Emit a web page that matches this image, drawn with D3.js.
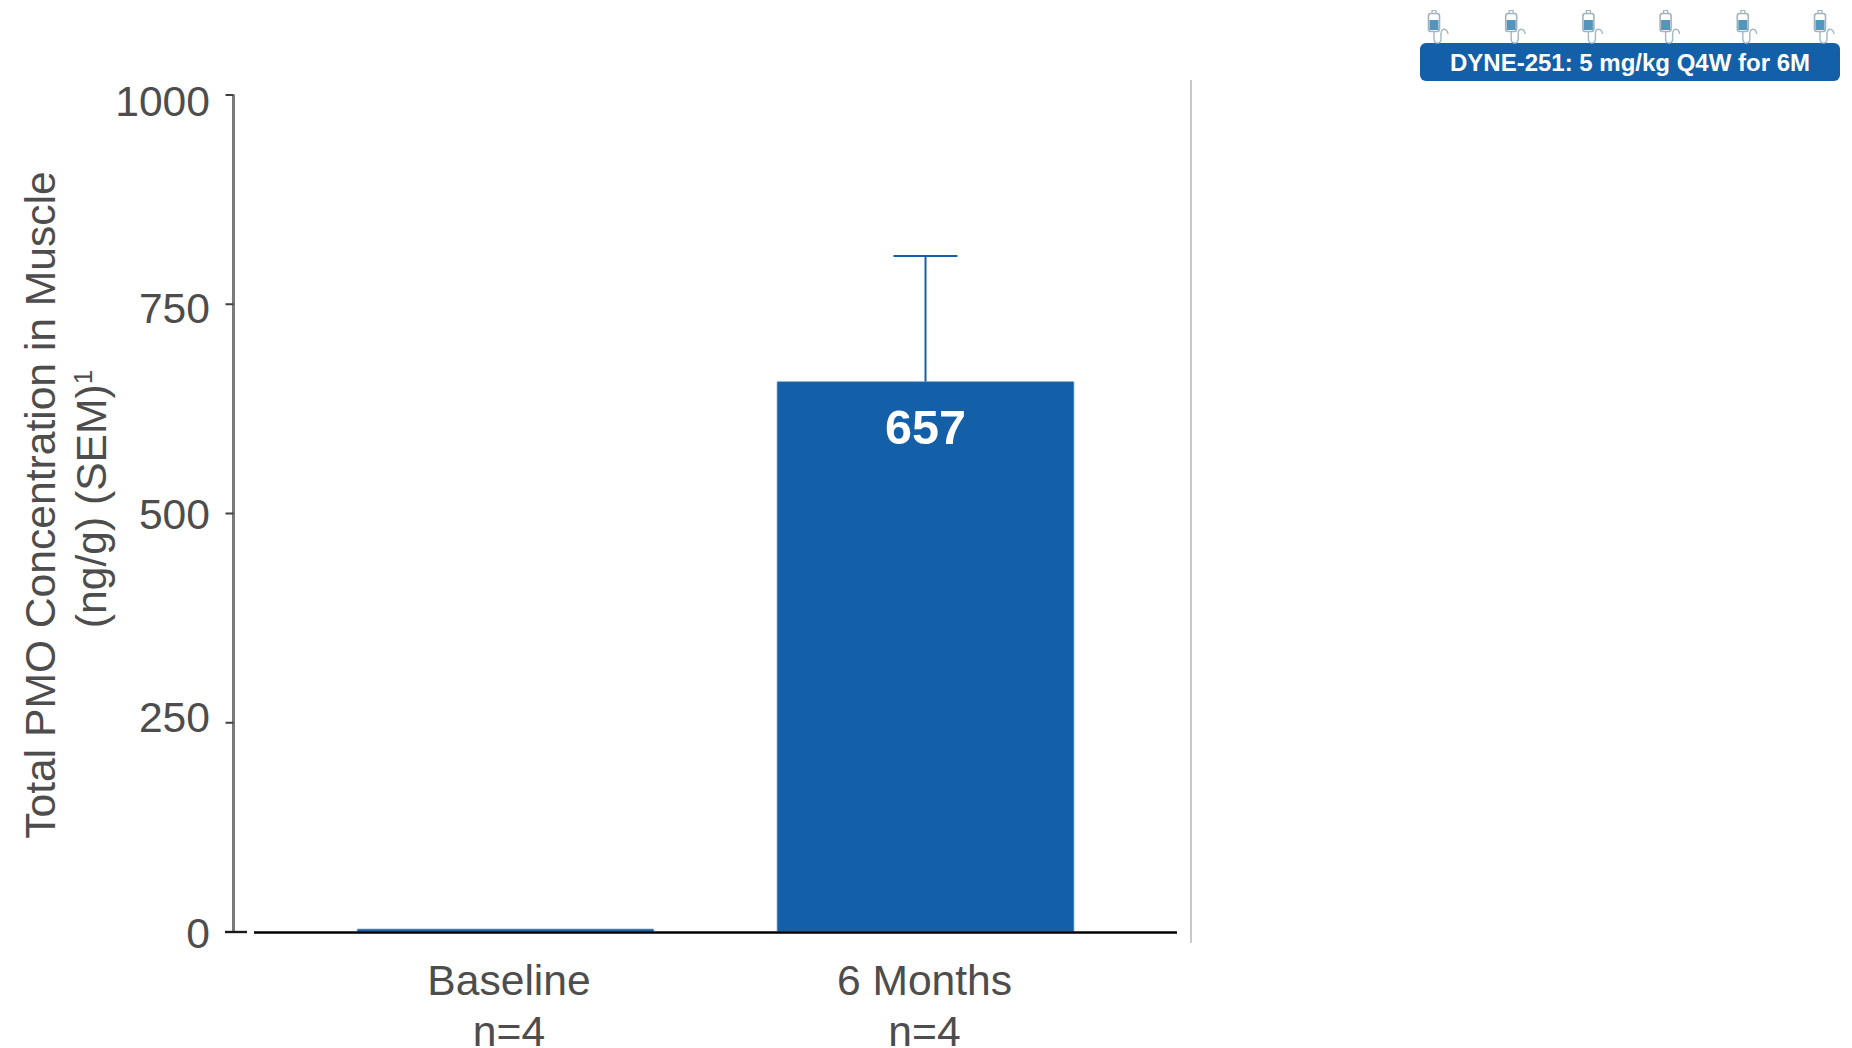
<!DOCTYPE html>
<html><head><meta charset="utf-8">
<script src="https://cdn.jsdelivr.net/npm/d3@7"></script>
<style>
html,body{margin:0;padding:0;background:#fff}
svg{display:block}
text{font-family:"Liberation Sans",Arial,sans-serif}
</style></head><body>
<svg id="c" width="1852" height="1048"></svg>
<script>
const categories = ["Baseline","6 Months"];
const sampleLabels = ["n=4","n=4"];
const values = [3,657];
const errors = [0,150];
const yTicks = [0,250,500,750,1000];
const valueLabels = [null,"657"];
const titleLines = ["Total PMO Concentration in Muscle","(ng/g) (SEM)"];
const badgeLabel = "DYNE-251: 5 mg/kg Q4W for 6M";
const doseMonths = [0,1,2,3,4,5];

const BLUE="#135fa8", TXT="#4d4d4d", FS=42.6;
const tickNudge=new Map([[0,0],[250,-6],[500,0],[750,3.5],[1000,5]]);
const svg=d3.select("#c");
const y=d3.scaleLinear().domain([0,1000]).range([931.5,94.5]);
const x=d3.scaleBand().domain(categories).range([357,1074]).paddingInner(0.2929).paddingOuter(0);

// y axis
const yAxis=d3.axisLeft(y).tickValues(yTicks).tickSize(8).tickPadding(0).tickFormat(d3.format("d"));
const gy=svg.append("g").attr("transform","translate(233.5,0)").call(yAxis);
gy.select(".domain").attr("stroke","#7a7a7a").attr("stroke-width",3).attr("d",`M0,${y(1000)}V${y(0)}`);
gy.selectAll(".tick line").attr("stroke","#404040").attr("stroke-width",2);
gy.selectAll(".tick").filter(d=>d===0).select("line").attr("x1",-8.5).attr("x2",13.5).attr("stroke","#1a1a1a").attr("stroke-width",2.4);
gy.selectAll(".tick text").attr("x",-23.5).attr("dy",null).attr("y",d=>15.5+tickNudge.get(d))
  .attr("font-size",FS).attr("fill",TXT).attr("font-family","Liberation Sans");

// bars
svg.append("g").selectAll("rect").data(categories).join("rect")
  .attr("x",d=>x(d)).attr("width",x.bandwidth())
  .attr("y",(d,i)=>y(values[i])).attr("height",(d,i)=>y(0)-y(values[i]))
  .attr("rx",1)
  .attr("fill",BLUE).attr("stroke","#8fb4d8").attr("stroke-width",0.8);

// error bars
const eg=svg.append("g").attr("stroke",BLUE).attr("stroke-width",2).attr("fill","none");
categories.forEach((c,i)=>{
  if(!errors[i])return;
  const cx=x(c)+x.bandwidth()/2;
  eg.append("line").attr("x1",cx).attr("x2",cx).attr("y1",y(values[i])).attr("y2",y(values[i]+errors[i]));
  eg.append("line").attr("x1",cx-32).attr("x2",cx+32).attr("y1",y(values[i]+errors[i])).attr("y2",y(values[i]+errors[i]));
});

// value label
svg.append("g").selectAll("text").data(categories).join("text")
  .filter((d,i)=>valueLabels[i])
  .attr("x",d=>x(d)+x.bandwidth()/2).attr("y",y(657)+62)
  .attr("text-anchor","middle").attr("font-size",48.5).attr("font-weight",700).attr("fill","#fff")
  .text("657");

// x baseline and separator
svg.append("line").attr("x1",254).attr("x2",1177).attr("y1",y(0)+1).attr("y2",y(0)+1).attr("stroke","#000").attr("stroke-width",2.6);
svg.append("line").attr("x1",1191).attr("x2",1191).attr("y1",80).attr("y2",943).attr("stroke","#a6a6a6").attr("stroke-width",1.2);

// x labels
const xl=svg.append("g").attr("text-anchor","middle").attr("font-size",FS).attr("fill",TXT);
categories.forEach((c,i)=>{
  const off=i===0?3.5:-1, cx=x(c)+x.bandwidth()/2+off;
  xl.append("text").attr("x",cx).attr("y",995).text(c);
  xl.append("text").attr("x",cx).attr("y",1045.5).text(sampleLabels[i]);
});

// y title
const tg=svg.append("g").attr("fill",TXT).attr("font-size",FS).attr("text-anchor","middle");
tg.append("text").attr("transform","translate(54.5,505) rotate(-90)").text(titleLines[0]);
const t2=tg.append("text").attr("transform","translate(106,499) rotate(-90)").text(titleLines[1]);
t2.append("tspan").attr("font-size",26).attr("dy",-14).text("1");

// badge
svg.append("rect").attr("x",1420).attr("y",43).attr("width",420).attr("height",38).attr("rx",6).attr("fill",BLUE);
svg.append("text").attr("x",1630).attr("y",71).attr("text-anchor","middle").attr("font-size",24).attr("font-weight",700).attr("fill","#fff").text(badgeLabel);

// IV bags
const dx=d3.scaleLinear().domain([0,5]).range([1434,1820]);
const bag=svg.append("g").selectAll("g").data(doseMonths).join("g").attr("transform",d=>`translate(${dx(d)},0)`);
bag.append("rect").attr("x",-5.5).attr("y",13.5).attr("width",11).attr("height",18).attr("rx",2.5).attr("fill","#fff").attr("stroke","#a3b3bd").attr("stroke-width",1.6);
bag.append("rect").attr("x",-4.5).attr("y",20).attr("width",9).attr("height",10).attr("fill","#5595bb");
bag.append("path").attr("d","M-2,13.5V10.5H2V13.5").attr("fill","none").attr("stroke","#a3b3bd").attr("stroke-width",1.2);
bag.append("path").attr("d","M0,31.5V39C0,44.5 7,44.5 7,39V34C7,27.5 13,28 14,34").attr("fill","none").attr("stroke","#9fb8c6").attr("stroke-width",1.4);
</script>
</body></html>
